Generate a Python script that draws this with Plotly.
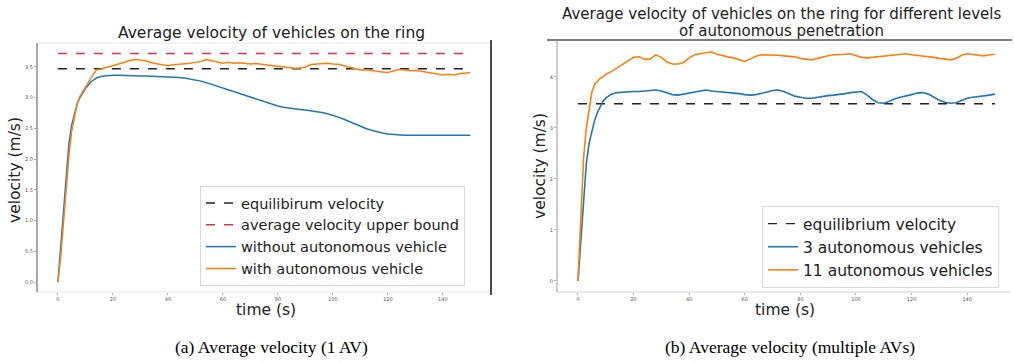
import plotly.graph_objects as go

# ---------------- data: (a) 1 AV ----------------
t_a = [0, 1, 2, 3, 4, 5, 6, 7, 8, 10, 12, 14, 16, 18, 20, 22, 24, 26, 28, 30, 32, 34, 36, 38, 40,
       42, 44, 46, 48, 50, 52, 54, 56, 58, 60, 62, 64, 66, 68, 70, 72, 74, 76, 78, 80, 82, 84, 86,
       88, 90, 92, 94, 96, 98, 100, 102, 104, 106, 108, 110, 112, 114, 116, 118, 120, 122, 124,
       126, 128, 130, 132, 134, 136, 138, 140, 142, 144, 146, 148, 150]
v_without_av = [0.0, 0.55, 1.1, 1.75, 2.25, 2.55, 2.75, 2.9, 3.0, 3.15, 3.26, 3.32, 3.35, 3.36,
                3.365, 3.365, 3.36, 3.36, 3.358, 3.355, 3.353, 3.35, 3.348, 3.345, 3.34, 3.335,
                3.33, 3.32, 3.305, 3.29, 3.27, 3.245, 3.215, 3.19, 3.16, 3.13, 3.10, 3.07, 3.04,
                3.01, 2.98, 2.95, 2.92, 2.89, 2.865, 2.845, 2.83, 2.82, 2.81, 2.80, 2.79, 2.775,
                2.76, 2.74, 2.715, 2.685, 2.65, 2.61, 2.57, 2.535, 2.50, 2.47, 2.445, 2.425, 2.41,
                2.40, 2.395, 2.39, 2.39, 2.39, 2.39, 2.39, 2.39, 2.39, 2.39, 2.39, 2.39, 2.39,
                2.39, 2.39]
v_with_av = [0.0, 0.4, 0.95, 1.55, 2.05, 2.45, 2.7, 2.9, 3.02, 3.18, 3.32, 3.45, 3.48, 3.50, 3.52,
             3.55, 3.575, 3.60, 3.62, 3.61, 3.60, 3.57, 3.555, 3.53, 3.52, 3.535, 3.54, 3.55,
             3.56, 3.575, 3.59, 3.62, 3.60, 3.57, 3.56, 3.575, 3.56, 3.57, 3.56, 3.55, 3.555,
             3.54, 3.535, 3.52, 3.51, 3.50, 3.49, 3.48, 3.485, 3.50, 3.54, 3.55, 3.555, 3.56,
             3.55, 3.545, 3.52, 3.50, 3.47, 3.45, 3.455, 3.44, 3.43, 3.42, 3.41, 3.43, 3.46,
             3.45, 3.44, 3.445, 3.43, 3.42, 3.40, 3.38, 3.37, 3.38, 3.37, 3.39, 3.40, 3.41]
equilibrium_velocity = 3.47
upper_bound_velocity = 3.72
eq_t = [0, 150]

# ---------------- data: (b) multiple AVs ----------------
t_b = [0, 1, 2, 3, 4, 5, 6, 7, 8, 9, 10, 12, 14, 16, 18, 20, 22, 24, 26, 28, 30, 32, 34, 36, 38,
       40, 42, 44, 46, 48, 50, 52, 54, 56, 58, 60, 62, 64, 66, 68, 70, 72, 74, 76, 78, 80, 82, 84,
       86, 88, 90, 92, 94, 96, 98, 100, 102, 104, 106, 108, 110, 112, 114, 116, 118, 120, 122,
       124, 126, 128, 130, 132, 134, 136, 138, 140, 142, 144, 146, 148, 150]
v_3_av = [0.0, 0.8, 1.6, 2.3, 2.7, 2.95, 3.15, 3.3, 3.41, 3.52, 3.58, 3.66, 3.69, 3.70, 3.70,
          3.71, 3.71, 3.72, 3.73, 3.74, 3.72, 3.68, 3.65, 3.64, 3.66, 3.69, 3.71, 3.73, 3.74,
          3.72, 3.71, 3.70, 3.70, 3.69, 3.67, 3.65, 3.64, 3.65, 3.67, 3.70, 3.73, 3.74, 3.71,
          3.66, 3.62, 3.60, 3.58, 3.58, 3.60, 3.62, 3.63, 3.64, 3.65, 3.67, 3.69, 3.70, 3.71,
          3.64, 3.55, 3.49, 3.48, 3.52, 3.57, 3.60, 3.62, 3.65, 3.68, 3.69, 3.66, 3.60, 3.54,
          3.50, 3.48, 3.49, 3.54, 3.58, 3.60, 3.61, 3.62, 3.64, 3.66]
v_11_av = [0.0, 1.3, 2.4, 3.0, 3.4, 3.7, 3.85, 3.92, 3.97, 4.0, 4.05, 4.1, 4.17, 4.23, 4.31,
           4.38, 4.39, 4.34, 4.35, 4.43, 4.38, 4.29, 4.25, 4.25, 4.28, 4.37, 4.43, 4.45, 4.47,
           4.49, 4.44, 4.41, 4.39, 4.37, 4.33, 4.30, 4.35, 4.40, 4.43, 4.43, 4.43, 4.42, 4.41,
           4.40, 4.39, 4.36, 4.34, 4.33, 4.36, 4.39, 4.41, 4.43, 4.43, 4.44, 4.45, 4.42, 4.38,
           4.37, 4.38, 4.39, 4.40, 4.41, 4.42, 4.44, 4.45, 4.43, 4.42, 4.41, 4.40, 4.38, 4.36,
           4.35, 4.33, 4.36, 4.42, 4.45, 4.44, 4.42, 4.41, 4.43, 4.44]

x_ticks = [0, 20, 40, 60, 80, 100, 120, 140]
y_ticks_a = [0.0, 0.5, 1.0, 1.5, 2.0, 2.5, 3.0, 3.5]
y_ticks_b = [0, 1, 2, 3, 4]

BLUE = "#1f77b4"
ORANGE = "#ff7f0e"
RED = "#e3324f"
FONT = "DejaVu Sans"
W, H = 1014, 362


def px(x):
    return x / W


def py(y):
    return 1 - y / H


fig = go.Figure()

# (a)
fig.add_trace(go.Scatter(x=eq_t, y=[equilibrium_velocity] * 2, mode="lines",
                         line=dict(color="#222222", dash="dash", width=1.4),
                         name="equilibirum velocity", xaxis="x", yaxis="y", legend="legend"))
fig.add_trace(go.Scatter(x=eq_t, y=[upper_bound_velocity] * 2, mode="lines",
                         line=dict(color=RED, dash="dash", width=1.4),
                         name="average velocity upper bound", xaxis="x", yaxis="y",
                         legend="legend"))
fig.add_trace(go.Scatter(x=t_a, y=v_without_av, mode="lines", line=dict(color=BLUE, width=1.5),
                         name="without autonomous vehicle", xaxis="x", yaxis="y",
                         legend="legend"))
fig.add_trace(go.Scatter(x=t_a, y=v_with_av, mode="lines", line=dict(color=ORANGE, width=1.5),
                         name="with autonomous vehicle", xaxis="x", yaxis="y", legend="legend"))

# (b)
fig.add_trace(go.Scatter(x=eq_t, y=[equilibrium_velocity] * 2, mode="lines",
                         line=dict(color="#222222", dash="dash", width=1.4),
                         name="equilibrium velocity", xaxis="x2", yaxis="y2", legend="legend2"))
fig.add_trace(go.Scatter(x=t_b, y=v_3_av, mode="lines", line=dict(color=BLUE, width=1.6),
                         name="3 autonomous vehicles", xaxis="x2", yaxis="y2",
                         legend="legend2"))
fig.add_trace(go.Scatter(x=t_b, y=v_11_av, mode="lines", line=dict(color=ORANGE, width=1.6),
                         name="11 autonomous vehicles", xaxis="x2", yaxis="y2",
                         legend="legend2"))

tickfont = dict(family=FONT, size=5, color="#555555")
common_axis = dict(showgrid=False, zeroline=False, ticks="outside", ticklen=2, tickwidth=0.6,
                   tickcolor="#777777", tickfont=tickfont, showline=False, automargin=False)

fig.update_layout(
    width=W, height=H,
    margin=dict(l=0, r=0, t=0, b=0),
    paper_bgcolor="white", plot_bgcolor="white",
    hovermode=False,
    xaxis=dict(domain=[px(37), px(491)], range=[-7.6, 157.5], tickvals=x_ticks,
               anchor="y", **common_axis),
    yaxis=dict(domain=[py(292), py(43)], range=[-0.16, 3.89], tickvals=y_ticks_a,
               tickformat=".1f", anchor="x", **common_axis),
    xaxis2=dict(domain=[px(557), px(1010)], range=[-7.55, 155.4], tickvals=x_ticks,
                anchor="y2", **common_axis),
    yaxis2=dict(domain=[py(292), py(40)], range=[-0.216, 4.72], tickvals=y_ticks_b,
                anchor="x2", **common_axis),
    legend=dict(x=px(200), y=py(186), xanchor="left", yanchor="top",
                bgcolor="rgba(255,255,255,0.9)", bordercolor="#d8d8d8", borderwidth=1,
                font=dict(family=FONT, size=14.5, color="#222222"), tracegroupgap=0,
                itemwidth=30),
    legend2=dict(x=px(762), y=py(206), xanchor="left", yanchor="top",
                 bgcolor="rgba(255,255,255,0.9)", bordercolor="#d8d8d8", borderwidth=1,
                 font=dict(family=FONT, size=15.5, color="#222222"), tracegroupgap=0,
                 itemwidth=30),
)

shapes = [
    # (a) faint frame + spines
    dict(type="rect", xref="paper", yref="paper", x0=px(37), x1=px(491), y0=py(292), y1=py(43),
         line=dict(color="#e6e6e6", width=1)),
    dict(type="line", xref="paper", yref="paper", x0=px(37), x1=px(37), y0=py(292), y1=py(43),
         line=dict(color="#777777", width=1.2)),
    dict(type="line", xref="paper", yref="paper", x0=px(491), x1=px(491), y0=py(295), y1=py(40),
         line=dict(color="#111111", width=1.5)),
    # (b) frame
    dict(type="line", xref="paper", yref="paper", x0=px(547), x1=px(1012), y0=py(40), y1=py(40),
         line=dict(color="#555555", width=1.5)),
    dict(type="line", xref="paper", yref="paper", x0=px(557), x1=px(557), y0=py(292), y1=py(40),
         line=dict(color="#999999", width=1)),
    dict(type="line", xref="paper", yref="paper", x0=px(557), x1=px(1010), y0=py(292), y1=py(292),
         line=dict(color="#d0d0d0", width=1)),
]
fig.update_layout(shapes=shapes)

ann = []


def add_text(text, x, y, size, family=FONT, angle=0, color="#222222"):
    ann.append(dict(text=text, x=px(x), y=py(y), xref="paper", yref="paper", showarrow=False,
                    xanchor="center", yanchor="middle", textangle=angle,
                    font=dict(family=family, size=size, color=color)))


add_text("Average velocity of vehicles on the ring", 271, 33, 15.5)
add_text("Average velocity of vehicles on the ring for different levels", 781, 14, 15)
add_text("of autonomous penetration", 781, 31, 15)
add_text("velocity (m/s)", 15, 170, 15.5, angle=-90)
add_text("velocity (m/s)", 540, 166, 15.5, angle=-90)
add_text("time (s)", 266, 310, 15.5)
add_text("time (s)", 785, 310, 15.5)
add_text("(a) Average velocity (1 AV)", 271, 347, 17.5, family="Liberation Serif",
         color="#000000")
add_text("(b) Average velocity (multiple AVs)", 790, 347, 17.5, family="Liberation Serif",
         color="#000000")
fig.update_layout(annotations=ann)

fig.write_html("out.html",
               config={"displayModeBar": False, "staticPlot": True},
               post_script="document.body.style.margin='0px';"
                           "document.body.style.overflow='hidden';")
